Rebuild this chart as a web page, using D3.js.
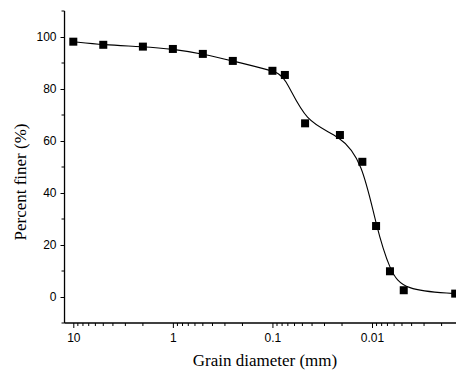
<!DOCTYPE html>
<html lang="en">
<head>
    <meta charset="UTF-8">
    <title>Grain size distribution</title>
    <script src="https://cdn.jsdelivr.net/npm/d3@7/dist/d3.min.js"></script>
    <style>
        body { margin: 0; background: #fff; }
        .tick text { font-family: "Liberation Sans", Arial, sans-serif; font-size: 12px; }
    </style>
</head>
<body>
<script>
    // data
    var diameter = [10, 5, 2, 1, 0.5, 0.25, 0.1, 0.075, 0.047, 0.021, 0.0125, 0.0091, 0.0066, 0.0048, 0.00146];
    var finer = [98.2, 97.0, 96.3, 95.4, 93.5, 90.8, 87.0, 85.4, 66.8, 62.3, 52.0, 27.3, 9.9, 2.6, 1.3];
    var xTicks = [10, 1, 0.1, 0.01];
    var yTicks = [0, 20, 40, 60, 80, 100];

    var width = 456, height = 372;
    var svg = d3.select("body").append("svg")
        .attr("width", width)
        .attr("height", height);

    // scales (x reversed, log)
    var x = d3.scaleLog()
        .domain([10, 0.01])
        .range([73.3, 372]);
    var y = d3.scaleLinear()
        .domain([-10, 110])
        .range([323, 11]);

    var left = x(12.25), right = x(0.0012);

    // minor ticks x
    var xMinor = [];
    [10, 1, 0.1, 0.01, 0.001].forEach(function (d) {
        for (var k = 2; k <= 9; k++) {
            var v = d * k / 10;
            if (v < 12.25 && v > 0.0012 && xTicks.indexOf(v) < 0) xMinor.push(v);
        }
    });
    var yMinor = d3.range(-10, 111, 10).filter(function (d) { return yTicks.indexOf(d) < 0; });

    var xAxisG = svg.append("g").attr("transform", "translate(0," + y(-10) + ")");
    xAxisG.selectAll(".minor").data(xMinor).enter().append("line")
        .attr("x1", function (d) { return x(d); })
        .attr("x2", function (d) { return x(d); })
        .attr("y1", 0).attr("y2", 3)
        .attr("stroke", "#000");
    xAxisG.call(d3.axisBottom(x).tickValues(xTicks).tickFormat(function (d) { return String(d); })
        .tickSize(5).tickSizeOuter(0).tickPadding(5));
    xAxisG.select(".domain").remove();
    xAxisG.append("line")
        .attr("x1", left).attr("x2", right)
        .attr("stroke", "#000").attr("stroke-width", 1.3);

    var yAxisG = svg.append("g").attr("transform", "translate(" + left + ",0)");
    yAxisG.selectAll(".minor").data(yMinor).enter().append("line")
        .attr("y1", function (d) { return y(d); })
        .attr("y2", function (d) { return y(d); })
        .attr("x1", 0).attr("x2", -3)
        .attr("stroke", "#000");
    yAxisG.call(d3.axisLeft(y).tickValues(yTicks).tickSize(4).tickSizeOuter(0).tickPadding(4));
    yAxisG.select(".domain").remove();
    yAxisG.append("line")
        .attr("y1", y(-10)).attr("y2", y(110))
        .attr("stroke", "#000").attr("stroke-width", 1.3);

    svg.selectAll(".tick text").attr("fill", "#000");

    // B-spline curve
    var pts = diameter.map(function (d, i) { return [x(d), y(finer[i])]; });
    svg.append("path")
        .attr("d", d3.line().curve(d3.curveBasis)(pts))
        .attr("fill", "none")
        .attr("stroke", "#000")
        .attr("stroke-width", 1.1);

    // markers
    svg.selectAll(".pt").data(pts).enter().append("rect")
        .attr("x", function (d) { return d[0] - 4; })
        .attr("y", function (d) { return d[1] - 4; })
        .attr("width", 8).attr("height", 8)
        .attr("fill", "#000");

    // axis titles
    svg.append("text")
        .attr("x", 265).attr("y", 366)
        .attr("text-anchor", "middle")
        .style("font-family", "'Liberation Serif', 'Times New Roman', serif")
        .style("font-size", "17px")
        .text("Grain diameter (mm)");

    svg.append("text")
        .attr("transform", "translate(26,182) rotate(-90)")
        .attr("text-anchor", "middle")
        .style("font-family", "'Liberation Serif', 'Times New Roman', serif")
        .style("font-size", "17px")
        .text("Percent finer (%)");
</script>
</body>
</html>
